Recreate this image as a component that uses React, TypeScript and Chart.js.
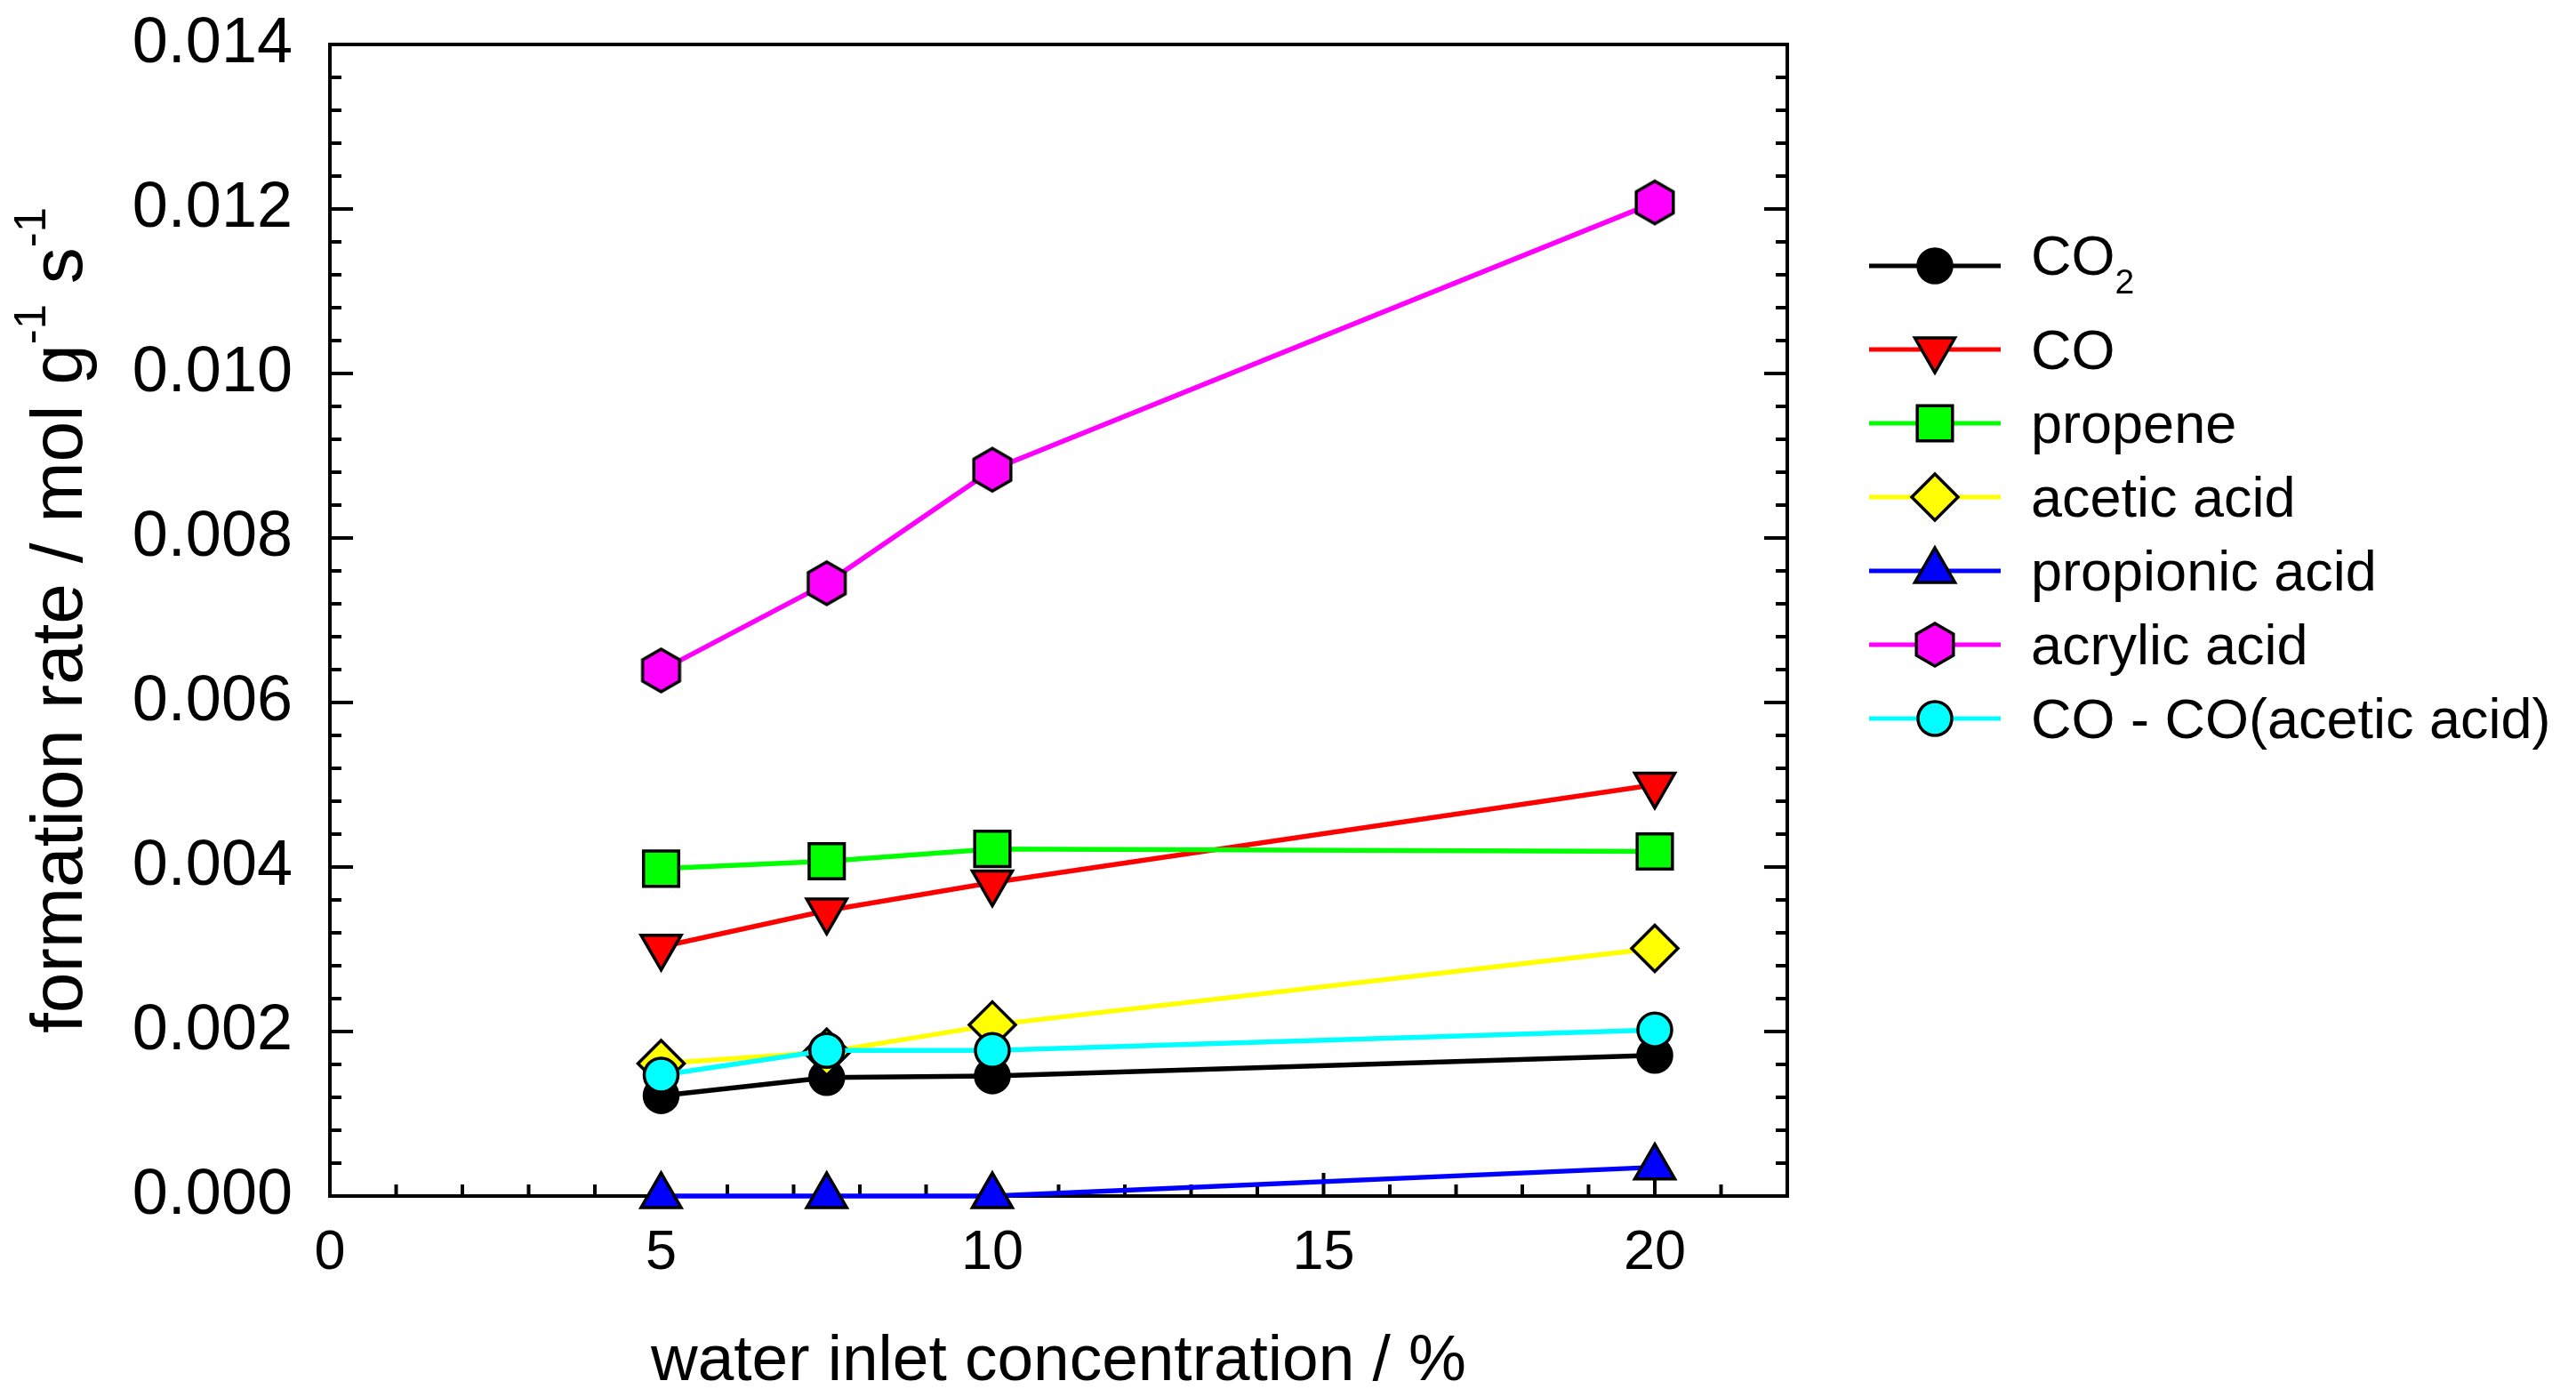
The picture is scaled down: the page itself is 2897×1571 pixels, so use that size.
import { useEffect, useRef } from 'react';
import { Chart, registerables } from 'chart.js';
import { drawPoint } from 'chart.js/helpers';

Chart.register(...registerables);

// water inlet concentration (%)
const waterConc = [5, 7.5, 10, 20];

// formation rates (mol g-1 s-1)
const co2Rate = [0.00122, 0.00144, 0.00146, 0.00171];
const coRate = [0.00303, 0.00347, 0.00381, 0.005];
const propeneRate = [0.00398, 0.00407, 0.00422, 0.00419];
const aceticRate = [0.00161, 0.00175, 0.00208, 0.00301];
const propionicRate = [0, 0, 0, 0.00035];
const acrylicRate = [0.00639, 0.00745, 0.00883, 0.01208];
const coCorrRate = [0.00147, 0.00177, 0.00177, 0.00202];

const seriesLabels = [
  'CO_2',
  'CO',
  'propene',
  'acetic acid',
  'propionic acid',
  'acrylic acid',
  'CO - CO(acetic acid)',
];

const xTickValues = [0, 5, 10, 15, 20];
const yTickValues = [0, 0.002, 0.004, 0.006, 0.008, 0.01, 0.012, 0.014];

const xTitle = 'water inlet concentration / %';
const yTitle = 'formation rate / mol g^{-1} s^{-1}';

const FONT = '"Liberation Sans", Arial, sans-serif';

const lineColors = ['#000000', '#ff0000', '#00ff00', '#ffff00', '#0000ff', '#ff00ff', '#00ffff'];
const markerStyles = ['circle', 'triangle', 'rect', 'rectRot', 'triangle', 'hexagon', 'circle'];
const markerRotation = [0, 180, 0, 0, 0, 0, 0];
const markerRadius = [19, 26, 28, 26, 26, 24, 19];

type Part = { text: string; mode: 'normal' | 'sup' | 'sub' };

function parseRich(s: string): Part[] {
  const parts: Part[] = [];
  const re = /\^\{([^}]*)\}|_\{([^}]*)\}|_(.)/g;
  let last = 0;
  let m: RegExpExecArray | null;
  while ((m = re.exec(s))) {
    if (m.index > last) parts.push({ text: s.slice(last, m.index), mode: 'normal' });
    if (m[1] !== undefined) parts.push({ text: m[1], mode: 'sup' });
    else parts.push({ text: (m[2] ?? m[3]) as string, mode: 'sub' });
    last = re.lastIndex;
  }
  if (last < s.length) parts.push({ text: s.slice(last), mode: 'normal' });
  return parts;
}

function drawRich(ctx: CanvasRenderingContext2D, s: string, x: number, y: number, size: number, center: boolean) {
  const parts = parseRich(s);
  const small = size * 0.62;
  const fontOf = (p: Part) => `${p.mode === 'normal' ? size : small}px ${FONT}`;
  const widths = parts.map(p => {
    ctx.font = fontOf(p);
    return ctx.measureText(p.text).width;
  });
  const total = widths.reduce((a, b) => a + b, 0);
  let cx = center ? x - total / 2 : x;
  ctx.textAlign = 'left';
  ctx.textBaseline = 'alphabetic';
  parts.forEach((p, i) => {
    ctx.font = fontOf(p);
    const dy = p.mode === 'sup' ? -size * 0.5 : p.mode === 'sub' ? size * 0.33 : 0;
    ctx.fillText(p.text, cx, y + dy);
    cx += widths[i];
  });
}

function makeHexagon(radius: number, fill: string) {
  const c = document.createElement('canvas');
  const size = Math.ceil(radius * 2 + 8);
  c.width = size;
  c.height = size;
  const g = c.getContext('2d')!;
  g.beginPath();
  for (let k = 0; k < 6; k++) {
    const a = -Math.PI / 2 + (k * Math.PI) / 3;
    const px = size / 2 + radius * Math.cos(a);
    const py = size / 2 + radius * Math.sin(a);
    if (k === 0) g.moveTo(px, py);
    else g.lineTo(px, py);
  }
  g.closePath();
  g.fillStyle = fill;
  g.fill();
  g.lineWidth = 3.5;
  g.strokeStyle = '#000';
  g.stroke();
  return c;
}

// box with inward ticks, drawn under the data
const framePlugin = {
  id: 'frame',
  beforeDatasetsDraw(chart: any) {
    const { ctx, chartArea: a, scales } = chart;
    const xs = scales.x;
    const ys = scales.y;
    ctx.save();
    ctx.strokeStyle = '#000';
    ctx.lineWidth = 4;
    ctx.beginPath();
    for (let v = 1; v < 22; v++) {
      const px = xs.getPixelForValue(v);
      const len = v % 5 === 0 ? 26 : 13;
      ctx.moveTo(px, a.bottom);
      ctx.lineTo(px, a.bottom - len);
    }
    for (let k = 1; k < 35; k++) {
      const py = ys.getPixelForValue(k * 0.0004);
      const len = k % 5 === 0 ? 26 : 13;
      ctx.moveTo(a.left, py);
      ctx.lineTo(a.left + len, py);
      ctx.moveTo(a.right, py);
      ctx.lineTo(a.right - len, py);
    }
    ctx.stroke();
    ctx.strokeRect(a.left, a.top, a.right - a.left, a.bottom - a.top);
    ctx.restore();
  },
};

// axis titles and the legend
const labelsPlugin = {
  id: 'labels',
  afterDraw(chart: any) {
    const { ctx, chartArea: a } = chart;
    ctx.save();
    ctx.fillStyle = '#000';
    drawRich(ctx, xTitle, (a.left + a.right) / 2, a.bottom + 207, 73, true);

    ctx.save();
    ctx.translate(92, (a.top + a.bottom) / 2);
    ctx.rotate(-Math.PI / 2);
    drawRich(ctx, yTitle, 0, 0, 82, true);
    ctx.restore();

    chart.data.datasets.forEach((ds: any, i: number) => {
      const rowY = i === 0 ? 299 : 393 + (i - 1) * 83;
      ctx.strokeStyle = ds.borderColor;
      ctx.lineWidth = 5;
      ctx.beginPath();
      ctx.moveTo(2102, rowY);
      ctx.lineTo(2250, rowY);
      ctx.stroke();

      ctx.fillStyle = ds.pointBackgroundColor;
      ctx.strokeStyle = '#000';
      ctx.lineWidth = ds.pointBorderWidth;
      drawPoint(ctx, {
        pointStyle: ds.pointStyle,
        rotation: ds.pointRotation,
        radius: ds.pointRadius,
        borderWidth: ds.pointBorderWidth,
      }, 2176, rowY);

      ctx.fillStyle = '#000';
      const hasSub = seriesLabels[i].includes('_');
      drawRich(ctx, seriesLabels[i], 2284, rowY + (hasSub ? 10 : 22), 63, false);
    });
    ctx.restore();
  },
};

export default function App() {
  const canvasRef = useRef<HTMLCanvasElement>(null);
  const chartRef = useRef<Chart | null>(null);

  useEffect(() => {
    if (!canvasRef.current) return;
    if (chartRef.current) chartRef.current.destroy();

    const series = [co2Rate, coRate, propeneRate, aceticRate, propionicRate, acrylicRate, coCorrRate];
    const hexagon = makeHexagon(markerRadius[5], lineColors[5]);

    const datasets = series.map((values, i) => ({
      label: seriesLabels[i],
      data: values.map((v, j) => ({ x: waterConc[j], y: v })),
      borderColor: lineColors[i],
      backgroundColor: lineColors[i],
      borderWidth: 5.5,
      pointStyle: markerStyles[i] === 'hexagon' ? hexagon : markerStyles[i],
      pointRotation: markerRotation[i],
      pointRadius: markerRadius[i],
      pointBackgroundColor: lineColors[i],
      pointBorderColor: '#000000',
      pointBorderWidth: 3.5,
      tension: 0,
      clip: false as any,
      order: series.length - 1 - i,
    }));

    chartRef.current = new Chart(canvasRef.current, {
      type: 'line',
      data: { datasets },
      options: {
        animation: false,
        responsive: true,
        maintainAspectRatio: false,
        layout: { autoPadding: false, padding: { left: 0, top: 50, right: 887, bottom: 0 } },
        plugins: {
          legend: { display: false },
          tooltip: { enabled: false },
        },
        scales: {
          x: {
            type: 'linear',
            min: 0,
            max: 22,
            grid: { display: false, drawTicks: false },
            border: { display: false },
            afterBuildTicks: (s: any) => {
              s.ticks = xTickValues.map(v => ({ value: v }));
            },
            afterFit: (s: any) => {
              s.height = 226;
              s.paddingLeft = 0;
              s.paddingRight = 0;
            },
            ticks: {
              color: '#000',
              font: { family: FONT, size: 63 },
              padding: 27,
              maxRotation: 0,
              autoSkip: false,
            },
          },
          y: {
            type: 'linear',
            min: 0,
            max: 0.014,
            grid: { display: false, drawTicks: false },
            border: { display: false },
            afterBuildTicks: (s: any) => {
              s.ticks = yTickValues.map(v => ({ value: v }));
            },
            afterFit: (s: any) => {
              s.width = 371;
              s.paddingTop = 0;
              s.paddingBottom = 0;
            },
            ticks: {
              color: '#000',
              font: { family: FONT, size: 72 },
              padding: 42,
              autoSkip: false,
              callback: (v: any) => Number(v).toFixed(3),
            },
          },
        },
      },
      plugins: [framePlugin, labelsPlugin],
    } as any);

    return () => {
      if (chartRef.current) {
        chartRef.current.destroy();
        chartRef.current = null;
      }
    };
  }, []);

  return (
    <div style={{ position: 'fixed', left: 0, top: 0, width: '100vw', height: '100vh', background: '#fff' }}>
      <canvas ref={canvasRef} />
    </div>
  );
}
